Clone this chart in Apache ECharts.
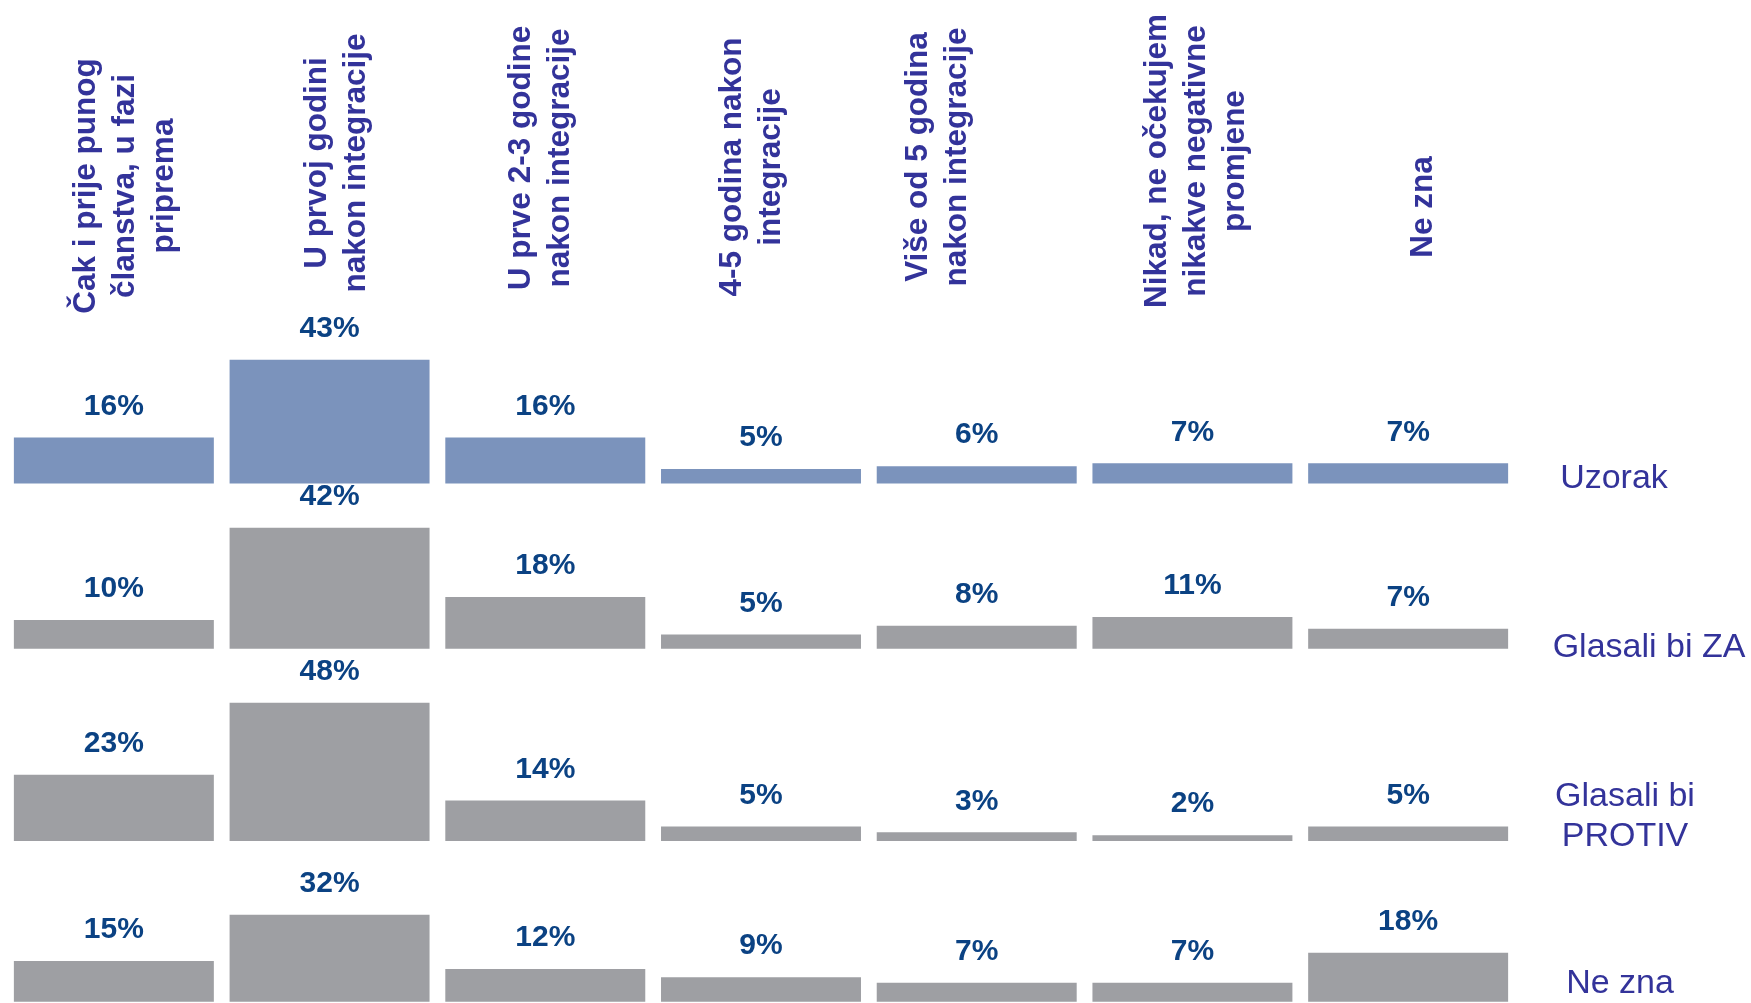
<!DOCTYPE html>
<html>
<head>
<meta charset="utf-8">
<script src="https://cdn.jsdelivr.net/npm/echarts@6/dist/echarts.min.js"></script>
<style>
html,body{margin:0;padding:0;background:#fff;}
#chart{width:1751px;height:1003px;}
</style>
</head>
<body>
<div id="chart"></div>
<script>
const categories = [
  'Čak i prije punog\nčlanstva, u fazi\npriprema',
  'U prvoj godini\nnakon integracije',
  'U prve 2-3 godine\nnakon integracije',
  '4-5 godina nakon\nintegracije',
  'Više od 5 godina\nnakon integracije',
  'Nikad, ne očekujem\nnikakve negativne\npromjene',
  'Ne zna'
];
const groups = ['Uzorak', 'Glasali bi ZA', 'Glasali bi\nPROTIV', 'Ne zna'];
const uzorak = [16, 43, 16, 5, 6, 7, 7];
const glasaliZa = [10, 42, 18, 5, 8, 11, 7];
const glasaliProtiv = [23, 48, 14, 5, 3, 2, 5];
const neZna = [15, 32, 12, 9, 7, 7, 18];

const seriesValues = [uzorak, glasaliZa, glasaliProtiv, neZna];
const barColors = ['#7B93BC', '#9E9FA3', '#9E9FA3', '#9E9FA3'];
const FONT = 'Liberation Sans, Arial, sans-serif';
const headColor = '#33339A';
const valColor = '#0B4283';

// layout (pixels)
const baselines = [483.5, 648.8, 840.9, 1001.7];
const heights = [144, 144, 144, 136];
const gridLeft = 6, gridWidth = 1510;
const groupLabelPos = [[1614, 479], [1649, 648], [1625, 817], [1620, 984]];
const headerCenterY = [186, 163, 158, 167, 157, 161, 207];
const headerDx = [11, 7, -4, -9, -39, 4, 15];

const grids = [], xAxes = [], yAxes = [], series = [];
seriesValues.forEach((vals, i) => {
  grids.push({left: gridLeft, width: gridWidth, top: baselines[i] - heights[i], height: heights[i],
              containLabel: false, outerBoundsMode: 'none'});
  xAxes.push({
    type: 'category', gridIndex: i, position: 'top', data: categories,
    axisLine: {show: false}, axisTick: {show: false}, splitLine: {show: false},
    axisLabel: {show: false}
  });
  yAxes.push({type: 'value', gridIndex: i, min: 0, max: 50, show: false, splitLine: {show: false}});
  series.push({
    type: 'bar', xAxisIndex: i, yAxisIndex: i, data: vals,
    barCategoryGap: '7.3%', itemStyle: {color: barColors[i]},
    label: {show: true, position: 'top', distance: 16, formatter: '{c}%', fontSize: 30, fontWeight: 'bold',
            color: valColor, fontFamily: FONT},
    silent: true, animation: false
  });
});

const groupGraphics = groups.map((g, i) => ({
  type: 'text', x: groupLabelPos[i][0], y: groupLabelPos[i][1],
  style: {text: g, fill: headColor, font: '34px ' + FONT, align: 'center', verticalAlign: 'middle', lineHeight: 40}
}));

const chart = echarts.init(document.getElementById('chart'));
chart.setOption({
  backgroundColor: '#ffffff',
  animation: false,
  grid: grids, xAxis: xAxes, yAxis: yAxes, series: series, graphic: groupGraphics
});

// category headers: placed at the category axis positions, rotated
const headerGraphics = categories.map((c, k) => {
  const cx = chart.convertToPixel({xAxisIndex: 0}, c);
  return {
    type: 'text', x: cx + headerDx[k], y: headerCenterY[k], rotation: Math.PI / 2,
    style: {text: c, fill: headColor, font: 'bold 31.5px ' + FONT, lineHeight: 39,
            align: 'center', verticalAlign: 'middle'}
  };
});
chart.setOption({graphic: groupGraphics.concat(headerGraphics)});
</script>
</body>
</html>
